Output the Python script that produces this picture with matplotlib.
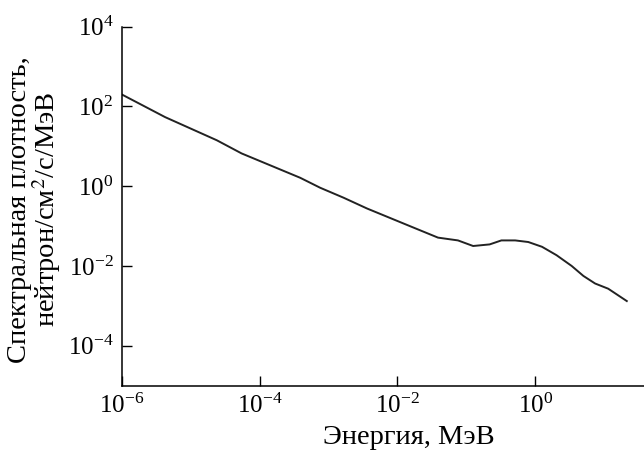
import matplotlib
matplotlib.use("Agg")
import matplotlib.pyplot as plt
import numpy as np

# (log10 values)
log_energy = [-5.99, -5.37, -4.62, -4.26, -3.41, -3.12, -2.78, -2.44, -1.82,
              -1.41, -1.12, -0.90, -0.66, -0.49, -0.29, -0.10, 0.10, 0.31,
              0.53, 0.70, 0.87, 1.06, 1.33]
log_density = [2.29, 1.73, 1.15, 0.82, 0.21, -0.04, -0.29, -0.56, -1.00,
               -1.29, -1.36, -1.50, -1.46, -1.36, -1.36, -1.40, -1.52, -1.73,
               -2.00, -2.25, -2.44, -2.57, -2.88]

energy = 10.0 ** np.array(log_energy)
density = 10.0 ** np.array(log_density)

plt.rcParams.update({
    "font.family": ["Liberation Serif", "DejaVu Serif"],
    "mathtext.fontset": "stix",
    "font.size": 18,
})

fig = plt.figure(figsize=(6.44, 4.5), dpi=100)
ax = fig.add_axes([0.189, 0.143, 0.811, 0.798])

ax.plot(energy, density, color="#222222", lw=1.4)

ax.set_xscale("log")
ax.set_yscale("log")
ax.set_xlim(1e-6, 38)
ax.set_ylim(1e-5, 1e4)
ax.set_xticks([1e-6, 1e-4, 1e-2, 1e0])
ax.set_yticks([1e-4, 1e-2, 1e0, 1e2, 1e4])
ax.minorticks_off()
ax.tick_params(direction="in", length=7, width=1, pad=6, labelsize=18)

for s in ("top", "right"):
    ax.spines[s].set_visible(False)
for s in ("left", "bottom"):
    ax.spines[s].set_linewidth(1.1)

ax.set_xlabel("Энергия, МэВ", fontsize=20.5)
ax.xaxis.set_label_coords(0.55, -0.11)
ax.set_ylabel("Спектральная плотность,\nнейтрон/см$^2$/с/МэВ", fontsize=20.5,
              linespacing=0.95)
ax.yaxis.set_label_coords(-0.112, 0.49)

fig.savefig("out.png", dpi=100)
